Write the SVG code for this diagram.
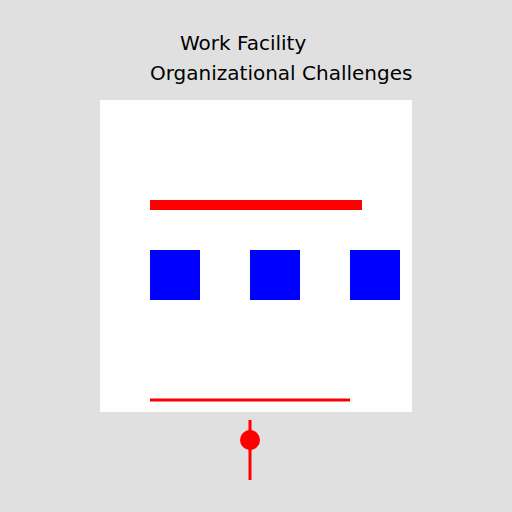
<svg xmlns="http://www.w3.org/2000/svg" width="512" height="512" viewBox="0 0 512 512">
<style>
.t{font-family:"DejaVu Sans",sans-serif;font-size:20px;fill:#000}
.b{fill:#0000ff}
.r{stroke:#ff0000;fill:none}
</style>
<rect width="512" height="512" fill="#e0e0e0"/>
<text class="t" x="180" y="50">Work Facility</text>
<text class="t" x="150" y="80">Organizational Challenges</text>
<g id="panel"><rect x="100" y="100" width="312" height="312" fill="#ffffff"/></g>
<g id="bar"><rect x="150" y="200" width="212" height="10" fill="#ff0000"/></g>
<g id="box1"><rect class="b" x="150" y="250" width="50" height="50"/></g>
<g id="box2"><rect class="b" x="250" y="250" width="50" height="50"/></g>
<g id="box3"><rect class="b" x="350" y="250" width="50" height="50"/></g>
<g id="connectors">
<line class="r" x1="150" y1="400" x2="350" y2="400" stroke-width="3"/>
<line class="r" x1="250" y1="420" x2="250" y2="480" stroke-width="3"/>
</g>
<g id="dot"><circle cx="250" cy="440" r="10" fill="#ff0000"/></g>
</svg>
